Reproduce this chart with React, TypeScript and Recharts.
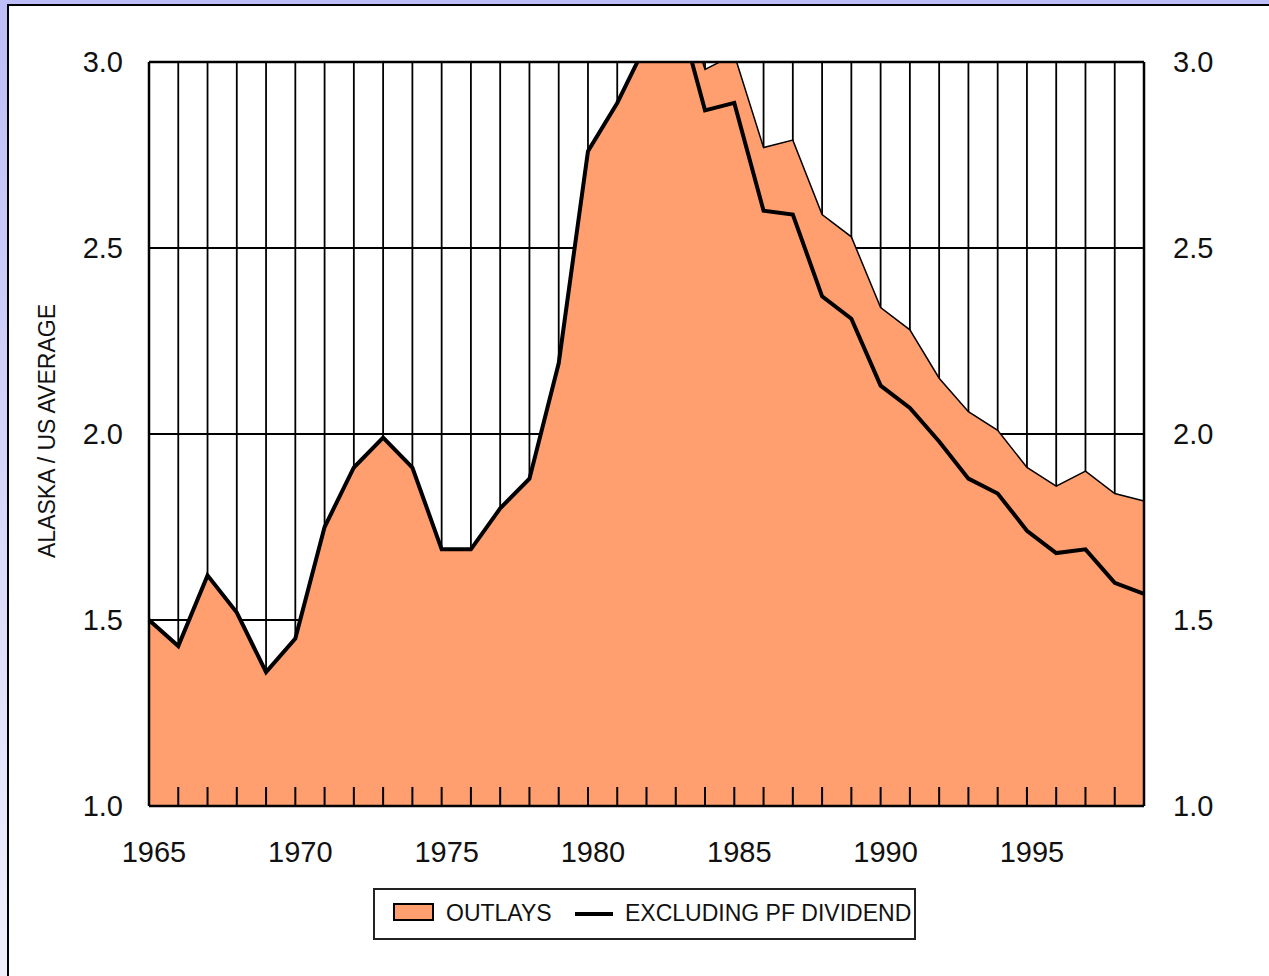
import {
  ComposedChart,
  Area,
  Line,
  XAxis,
  YAxis,
  CartesianGrid,
  ReferenceLine,
  Label,
} from "recharts";

const years = [
  1965, 1966, 1967, 1968, 1969, 1970, 1971, 1972, 1973, 1974, 1975, 1976,
  1977, 1978, 1979, 1980, 1981, 1982, 1983, 1984, 1985, 1986, 1987, 1988,
  1989, 1990, 1991, 1992, 1993, 1994, 1995, 1996, 1997, 1998, 1999,
];

// ratio of Alaska state outlays per capita to the US average
const outlays = [
  1.5, 1.43, 1.62, 1.52, 1.36, 1.45, 1.75, 1.91, 1.99, 1.91, 1.69, 1.69,
  1.8, 1.88, 2.19, 2.76, 2.89, 3.05, 3.22, 2.98, 3.02, 2.77, 2.79, 2.59,
  2.53, 2.34, 2.28, 2.15, 2.06, 2.01, 1.91, 1.86, 1.9, 1.84, 1.82,
];

const exclPfDividend = [
  1.5, 1.43, 1.62, 1.52, 1.36, 1.45, 1.75, 1.91, 1.99, 1.91, 1.69, 1.69,
  1.8, 1.88, 2.19, 2.76, 2.89, 3.05, 3.16, 2.87, 2.89, 2.6, 2.59, 2.37,
  2.31, 2.13, 2.07, 1.98, 1.88, 1.84, 1.74, 1.68, 1.69, 1.6, 1.57,
];

const yTicks = [1.0, 1.5, 2.0, 2.5, 3.0];
const labelYears = [1965, 1970, 1975, 1980, 1985, 1990, 1995];

const data = years.map((year, i) => ({
  year,
  outlays: outlays[i],
  excl: exclPfDividend[i],
}));

const FONT = '"Liberation Sans", Arial, Helvetica, sans-serif';
const ORANGE = "#FF9E6F";
const TICK_MARGIN = 46;

function YearTick(props: any) {
  const { x, y, payload } = props;
  const bottom = y - TICK_MARGIN;
  const show = labelYears.includes(payload.value);
  return (
    <g>
      <line x1={x} x2={x} y1={bottom} y2={bottom - 19} stroke="#000" strokeWidth={2} />
      {show && (
        <text
          x={x + 5}
          y={y}
          dy="0.36em"
          textAnchor="middle"
          fontSize={29}
          fill="#111"
          fontFamily={FONT}
        >
          {payload.value}
        </text>
      )}
    </g>
  );
}

const yTickStyle = { fontSize: 29, fill: "#111", fontFamily: FONT };

export default function App() {
  return (
    <div
      style={{
        position: "fixed",
        inset: 0,
        overflow: "hidden",
        background: "linear-gradient(to bottom, #BDBDF8, #F0F0FC)",
      }}
    >
      <div
        style={{
          position: "absolute",
          left: 7,
          top: 4,
          right: -10,
          bottom: -10,
          background: "#fff",
          borderLeft: "2px solid #000",
          borderTop: "2px solid #000",
        }}
      />
      <div style={{ position: "absolute", left: 0, top: 0 }}>
        <ComposedChart
          width={1269}
          height={976}
          data={data}
          margin={{ top: 62, right: 0, bottom: 0, left: 0 }}
        >
          <CartesianGrid yAxisId="left" stroke="#000" strokeWidth={1.8} />
          <Area
            yAxisId="left"
            dataKey="outlays"
            type="linear"
            fill={ORANGE}
            fillOpacity={1}
            stroke="#000"
            strokeWidth={1.5}
            isAnimationActive={false}
          />
          <Line
            yAxisId="left"
            dataKey="excl"
            type="linear"
            stroke="#000"
            strokeWidth={4}
            dot={false}
            isAnimationActive={false}
          />
          <ReferenceLine yAxisId="left" y={3} stroke="#000" strokeWidth={2.5} />
          <XAxis
            dataKey="year"
            type="number"
            domain={[1965, 1999]}
            ticks={years}
            interval={0}
            height={170}
            tickLine={false}
            tickSize={0}
            tickMargin={TICK_MARGIN}
            tick={<YearTick />}
            axisLine={{ stroke: "#000", strokeWidth: 2.5 }}
          />
          <YAxis
            yAxisId="left"
            domain={[1, 3]}
            ticks={yTicks}
            allowDataOverflow
            width={149}
            tickLine={false}
            tickSize={0}
            tickMargin={26}
            tickFormatter={(v: number) => v.toFixed(1)}
            tick={yTickStyle}
            axisLine={{ stroke: "#000", strokeWidth: 2.5 }}
          >
            <Label
              content={(p: any) => {
                const vb = p.viewBox || {};
                const cx = 47;
                const cy = (vb.y ?? 62) + (vb.height ?? 744) / 2 - 3;
                return (
                  <text
                    x={cx}
                    y={cy}
                    transform={`rotate(-90 ${cx} ${cy})`}
                    textAnchor="middle"
                    dominantBaseline="central"
                    fontSize={23}
                    fill="#111"
                    fontFamily={FONT}
                  >
                    ALASKA / US AVERAGE
                  </text>
                );
              }}
            />
          </YAxis>
          <YAxis
            yAxisId="right"
            orientation="right"
            domain={[1, 3]}
            ticks={yTicks}
            allowDataOverflow
            width={125}
            tickLine={false}
            tickSize={0}
            tickMargin={29}
            tickFormatter={(v: number) => v.toFixed(1)}
            tick={yTickStyle}
            axisLine={{ stroke: "#000", strokeWidth: 2.5 }}
          />
        </ComposedChart>
      </div>
      <div
        style={{
          position: "absolute",
          left: 373,
          top: 888,
          width: 539,
          height: 48,
          border: "2px solid #222",
          background: "#fff",
          fontFamily: FONT,
          fontSize: 23,
          color: "#111",
        }}
      >
        <div
          style={{
            position: "absolute",
            left: 18,
            top: 13,
            width: 37,
            height: 14,
            background: ORANGE,
            border: "2px solid #000",
          }}
        />
        <span style={{ position: "absolute", left: 71, top: 12, lineHeight: "23px" }}>OUTLAYS</span>
        <div
          style={{
            position: "absolute",
            left: 200,
            top: 22,
            width: 38,
            height: 4,
            background: "#000",
          }}
        />
        <span style={{ position: "absolute", left: 250, top: 12, lineHeight: "23px" }}>
          EXCLUDING PF DIVIDEND
        </span>
      </div>
    </div>
  );
}
